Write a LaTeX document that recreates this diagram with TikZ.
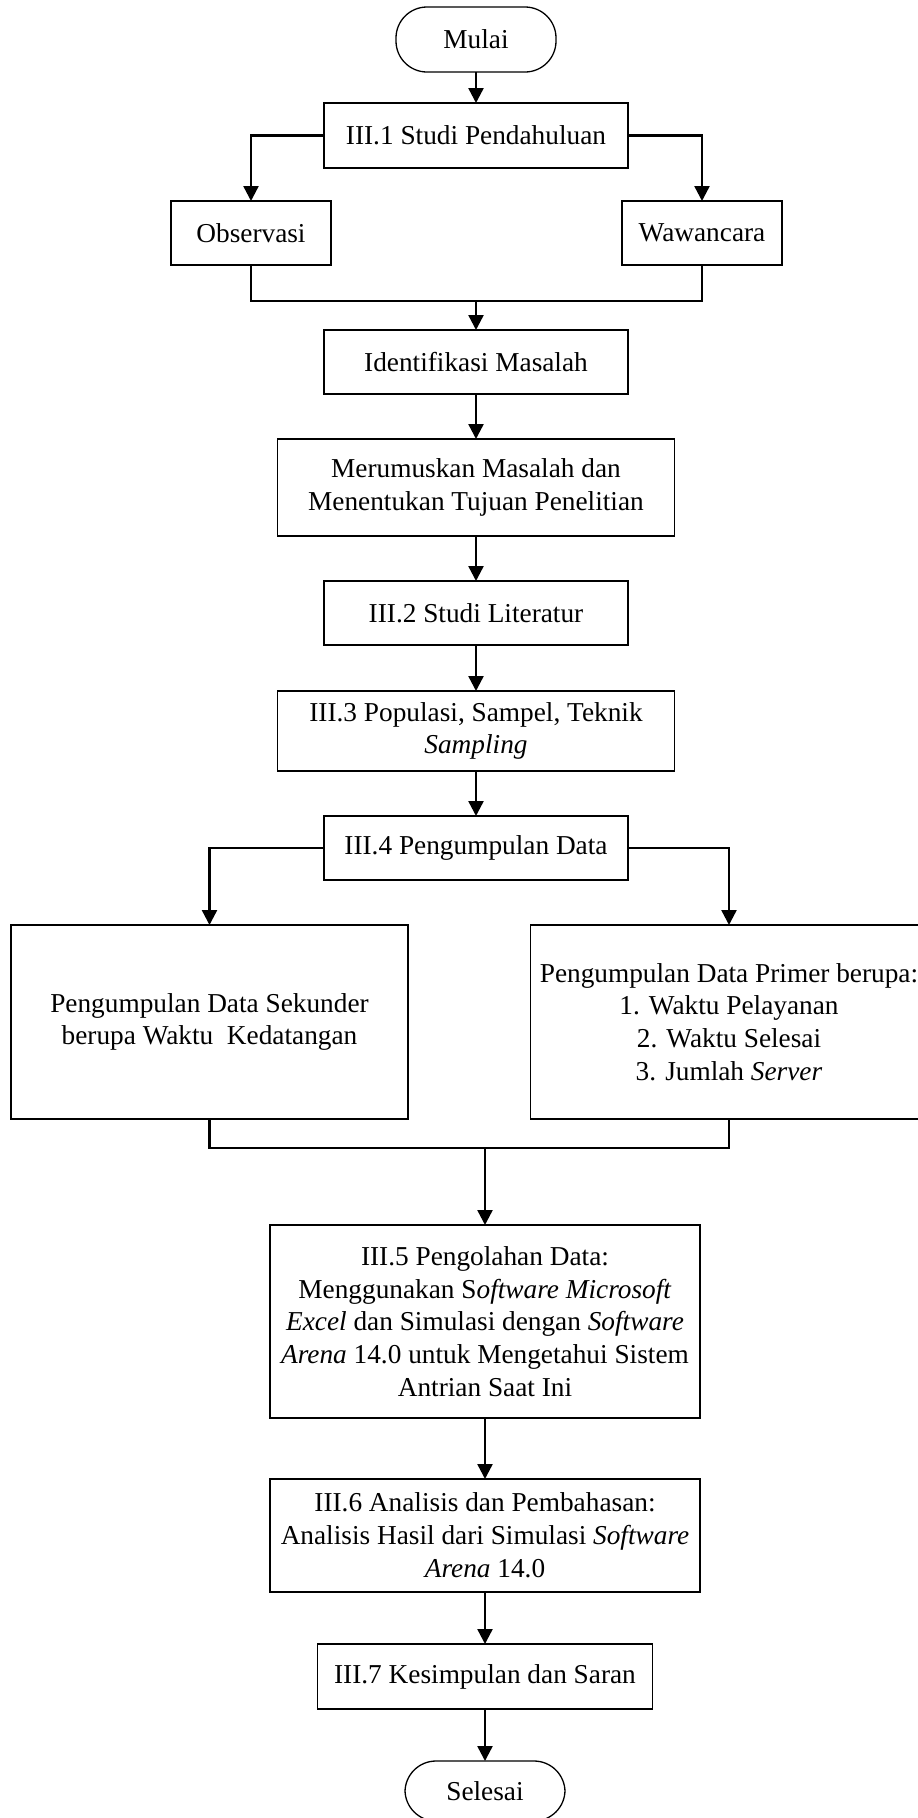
\documentclass[tikz,border=0pt]{standalone}
\usepackage{fontspec}
\setmainfont{Liberation Serif}
\usetikzlibrary{arrows.meta, positioning}

\begin{document}
\begin{tikzpicture}[
    font=\fontsize{27.3}{32.8}\selectfont,
    box/.style={
      rectangle,
      draw=black,
      line width=1.3pt,
      align=center,
      minimum width=304pt,
      minimum height=64pt,
      inner sep=4pt,
      outer sep=0pt
    },
    wide/.style={box, minimum width=397pt},
    terminal/.style={box, rounded corners=31pt, minimum width=160pt, minimum height=65pt},
    arrow/.style={-{Triangle[length=15pt, width=15pt]}, line width=2.4pt},
    link/.style={line width=2.4pt}
  ]
    \useasboundingbox (0,0) rectangle (918pt,-1818pt);

    \node[terminal] (mulai) at (476pt,-39.5pt) {Mulai};
    \node[box, minimum height=65pt, below=31pt of mulai] (studi) {III.1 Studi Pendahuluan};
    \node[box, minimum width=160pt, below=33pt of studi, xshift=-225pt] (obs) {Observasi};
    \node[box, minimum width=160pt, below=33pt of studi, xshift=226pt] (waw) {Wawancara};
    \node[box, below=162pt of studi] (ident) {Identifikasi Masalah};
    \node[wide, minimum height=97pt, below=45pt of ident] (rumus) {Merumuskan Masalah dan\\Menentukan Tujuan Penelitian};
    \node[box, below=45pt of rumus] (lit) {III.2 Studi Literatur};
    \node[wide, minimum height=80pt, below=46pt of lit] (pop) {III.3 Populasi, Sampel, Teknik\\\textit{Sampling}};
    \node[box, below=45pt of pop] (kumpul) {III.4 Pengumpulan Data};
    \node[wide, minimum height=194pt, below=45pt of kumpul, xshift=-266.5pt] (sekunder) {Pengumpulan Data Sekunder\\berupa Waktu\ \ Kedatangan};
    \node[wide, minimum height=194pt, below=45pt of kumpul, xshift=253pt] (primer) {Pengumpulan Data Primer berupa:\\1. Waktu Pelayanan\\2. Waktu Selesai\\3. Jumlah \textit{Server}};
    \node[box, minimum width=430pt, minimum height=193pt, below=345pt of kumpul, xshift=9pt] (olah) {III.5 Pengolahan Data:\\Menggunakan S\textit{oftware Microsoft}\\\textit{Excel} dan Simulasi dengan \textit{Software}\\\textit{Arena} 14.0 untuk Mengetahui Sistem\\Antrian Saat Ini};
    \node[box, minimum width=430pt, minimum height=113pt, below=61pt of olah] (analisis) {III.6 Analisis dan Pembahasan:\\Analisis Hasil dari Simulasi \textit{Software}\\\textit{Arena} 14.0};
    \node[box, minimum width=335pt, minimum height=65pt, below=52pt of analisis] (simpul) {III.7 Kesimpulan dan Saran};
    \node[terminal, minimum height=60pt, below=52pt of simpul] (selesai) {Selesai};

    \coordinate[above=29pt of ident.north] (join1);
    \coordinate[above=77pt of olah.north] (join2);

    \draw[arrow] (mulai) -- (studi);
    \draw[arrow] (studi.west) -| (obs.north);
    \draw[arrow] (studi.east) -| (waw.north);
    \draw[link] (obs.south) |- (join1) -| (waw.south);
    \draw[arrow] (join1) -- (ident);
    \draw[arrow] (ident) -- (rumus);
    \draw[arrow] (rumus) -- (lit);
    \draw[arrow] (lit) -- (pop);
    \draw[arrow] (pop) -- (kumpul);
    \draw[arrow] (kumpul.west) -| (sekunder.north);
    \draw[arrow] (kumpul.east) -| (primer.north);
    \draw[link] (sekunder.south) |- (join2) -| (primer.south);
    \draw[arrow] (join2) -- (olah);
    \draw[arrow] (olah) -- (analisis);
    \draw[arrow] (analisis) -- (simpul);
    \draw[arrow] (simpul) -- (selesai);
  \end{tikzpicture}
\end{document}
